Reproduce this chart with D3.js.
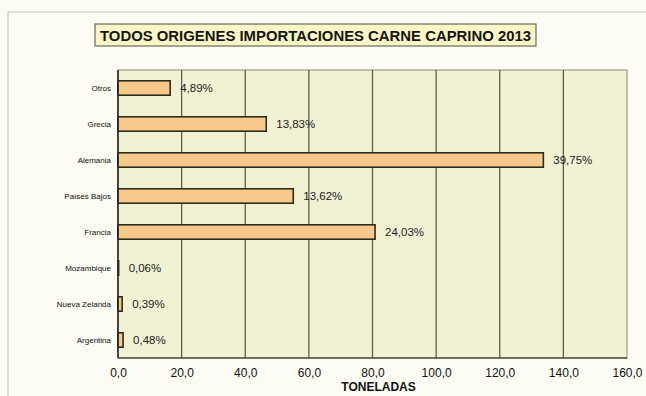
<!DOCTYPE html>
<html>
<head>
<meta charset="utf-8">
<script src="https://cdn.jsdelivr.net/npm/d3@7"></script>
<style>
  html, body { margin: 0; padding: 0; background: #fdfcf4; }
  svg { display: block; font-family: "Liberation Sans", Arial, sans-serif; }
</style>
</head>
<body>
<svg id="chart" width="646" height="396"></svg>
<script>
// Origins of goat meat imports, 2013 (tonnes) and their share of the total
const categories = ["Otros", "Grecia", "Alemania", "Países Bajos", "Francia", "Mozambique", "Nueva Zelanda", "Argentina"];
const tonnes = [16.4, 46.6, 133.7, 55.1, 80.8, 0.2, 1.3, 1.6];
const shareLabels = ["4,89%", "13,83%", "39,75%", "13,62%", "24,03%", "0,06%", "0,39%", "0,48%"];
const xTicks = [0, 20, 40, 60, 80, 100, 120, 140, 160];
const title = "TODOS ORIGENES IMPORTACIONES CARNE CAPRINO 2013";
const axisTitle = "TONELADAS";

const svg = d3.select("#chart");
const margin = { left: 118, right: 19, top: 70, bottom: 38 };
const W = 646, H = 396;
const plotW = W - margin.left - margin.right;
const plotH = H - margin.top - margin.bottom;

// outer frame
svg.append("rect").attr("x", 0).attr("y", 0).attr("width", W).attr("height", H).attr("fill", "#fdfcf4");
svg.append("path")
  .attr("d", `M8,${H} L8,12 L${W},12`)
  .attr("fill", "none").attr("stroke", "#c9c7bd").attr("stroke-width", 1.2);

const x = d3.scaleLinear().domain([0, 160]).range([0, plotW]);
const y = d3.scaleBand().domain(categories).range([0, plotH]).paddingInner(0.6).paddingOuter(0.3);

const g = svg.append("g").attr("transform", `translate(${margin.left},${margin.top})`);

// plot background
g.append("rect").attr("width", plotW).attr("height", plotH)
  .attr("fill", "#f1f1d4").attr("stroke", "#8a8a74").attr("stroke-width", 1);

// vertical gridlines
g.append("g").selectAll("line")
  .data(xTicks.filter(t => t > 0 && t < 160))
  .join("line")
  .attr("x1", d => x(d)).attr("x2", d => x(d))
  .attr("y1", 0).attr("y2", plotH)
  .attr("stroke", "#5e5e4e").attr("stroke-width", 1.3);

// bars
g.append("g").selectAll("rect")
  .data(categories)
  .join("rect")
  .attr("x", 0)
  .attr("y", d => y(d))
  .attr("width", (d, i) => x(tonnes[i]))
  .attr("height", y.bandwidth())
  .attr("fill", "#f7c98b")
  .attr("stroke", "#2f2a1e").attr("stroke-width", 1.6);

// share labels
g.append("g").selectAll("text")
  .data(categories)
  .join("text")
  .attr("x", (d, i) => x(tonnes[i]) + 10)
  .attr("y", d => y(d) + y.bandwidth() / 2)
  .attr("dy", "0.35em")
  .attr("font-size", 11.5)
  .attr("fill", "#222")
  .text((d, i) => shareLabels[i]);

// category axis
const yAxis = g.append("g").call(d3.axisLeft(y).tickSize(0).tickPadding(7));
yAxis.select(".domain").remove();
yAxis.selectAll("text").attr("font-size", 8).attr("fill", "#111")
  .attr("font-family", "'Liberation Sans', Arial, sans-serif");

// left and bottom axis lines
g.append("line").attr("x1", 0).attr("x2", 0).attr("y1", 0).attr("y2", plotH)
  .attr("stroke", "#2a2a22").attr("stroke-width", 1.6);
g.append("line").attr("x1", 0).attr("x2", plotW).attr("y1", plotH).attr("y2", plotH)
  .attr("stroke", "#55553f").attr("stroke-width", 1.4);

// value axis
const fmt = d => d3.format(".1f")(d).replace(".", ",");
const xAxis = g.append("g").attr("transform", `translate(0,${plotH})`)
  .call(d3.axisBottom(x).tickValues(xTicks).tickFormat(fmt).tickSize(0).tickPadding(10));
xAxis.select(".domain").remove();
xAxis.selectAll("text").attr("font-size", 12).attr("fill", "#111")
  .attr("font-family", "'Liberation Sans', Arial, sans-serif");

g.append("text")
  .attr("x", plotW / 2 + 6).attr("y", plotH + 33)
  .attr("text-anchor", "middle")
  .attr("font-size", 12).attr("font-weight", "bold").attr("fill", "#111")
  .text(axisTitle);

// title with boxed background
const titleG = svg.append("g");
const tBox = titleG.append("rect");
const tText = titleG.append("text")
  .attr("x", 100).attr("y", 40.5)
  .attr("font-size", 14.5).attr("font-weight", "bold").attr("fill", "#151515")
  .attr("textLength", 431).attr("lengthAdjust", "spacingAndGlyphs")
  .text(title);
const bb = tText.node().getBBox();
tBox.attr("x", 95).attr("y", 24)
  .attr("width", bb.width + 10).attr("height", 22)
  .attr("fill", "#fbf6c6").attr("stroke", "#6b6a55").attr("stroke-width", 1.2);
</script>
</body>
</html>
